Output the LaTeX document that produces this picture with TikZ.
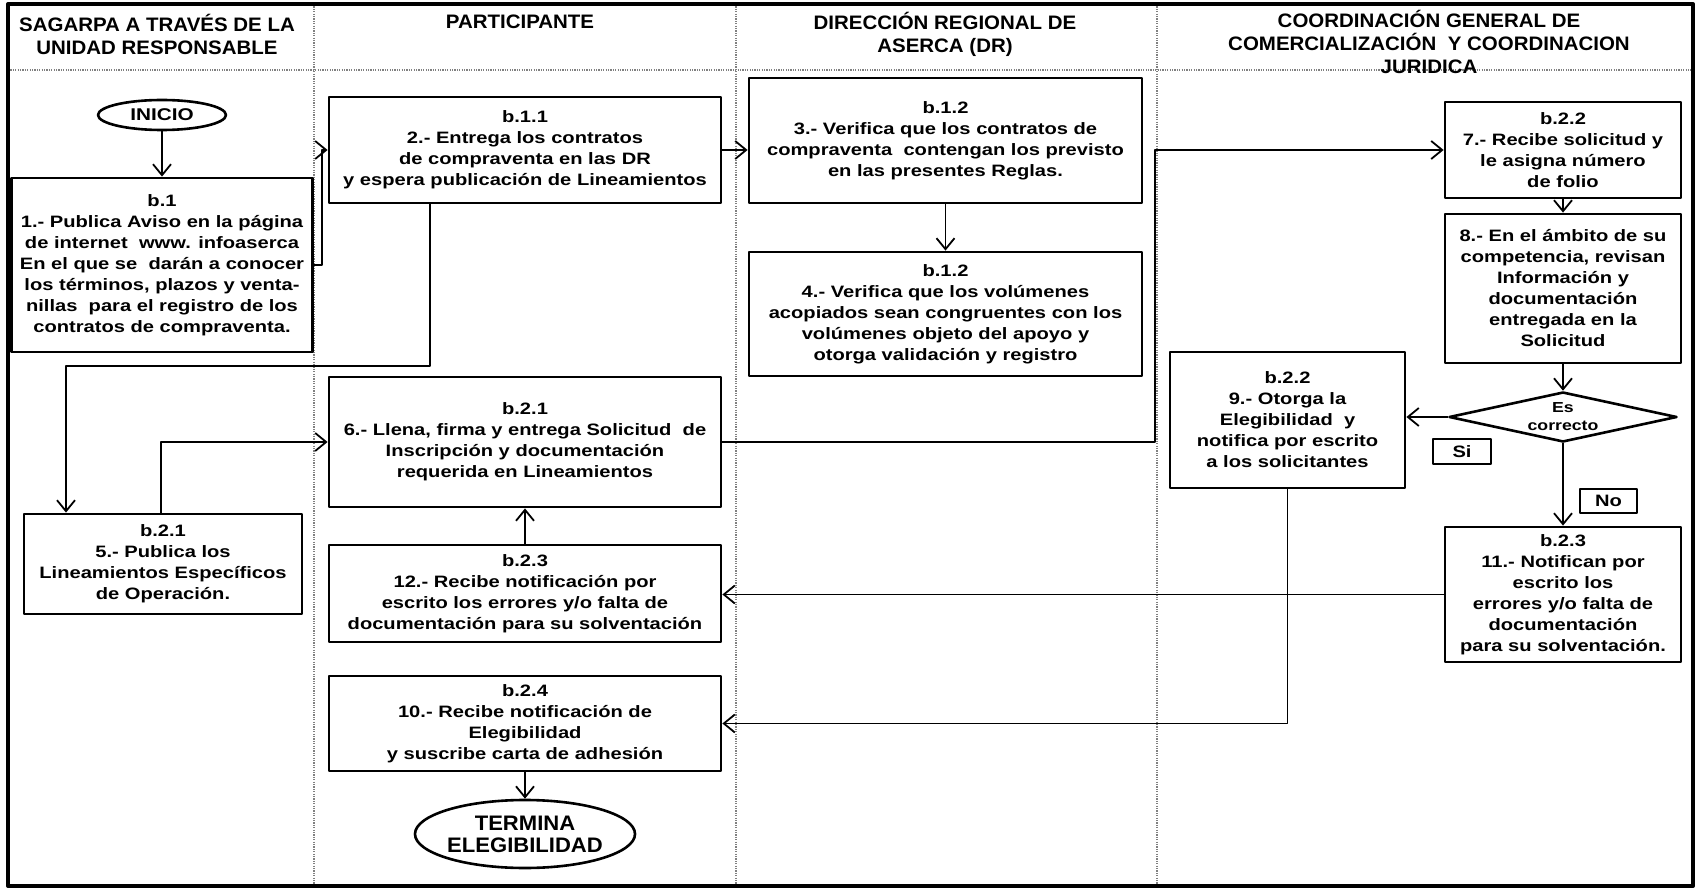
\documentclass[tikz,border=0pt]{standalone}
\usepackage[svgnames]{xcolor}
\usepackage{fontspec}
\setmainfont{Liberation Sans}
\newfontfamily\cajafont[FakeStretch=1.22]{Liberation Sans}
\newfontfamily\cabfont[FakeStretch=1.05]{Liberation Sans}
\usepackage{tikz}
\usetikzlibrary{arrows.meta}
\usetikzlibrary{shapes}
\usetikzlibrary{calc}

\begin{document}
\begin{tikzpicture}[line cap=round,line join=round,>={Straight Barb[length=11pt,width=18pt]},x=1pt,y=-1pt,
  caja/.style={draw,line width=2.8pt,inner sep=0pt,align=center,font=\cajafont\bfseries\fontsize{16.5}{21}\selectfont},
  inicio/.style={draw,ellipse,line width=2.6pt,inner sep=0pt,align=center},
  decision/.style={draw,diamond,line width=2.6pt,inner sep=0pt,minimum width=228pt,minimum height=50pt},
  cabecera/.style={align=center,font=\cabfont\bfseries\fontsize{19.5}{23}\selectfont},
  carril/.style={color=Gray,line width=1.2pt,dash pattern=on 1.2pt off 1.2pt,line cap=butt},
  flecha/.style={->,line width=1.8pt}]
\useasboundingbox (0,0) rectangle (1700,890);

% carriles
\draw[carril] (314,4) -- (314,886);
\draw[carril] (736,4) -- (736,886);
\draw[carril] (1157,4) -- (1157,886);
\draw[carril] (8,70) -- (1693,70);
\draw[line width=4pt] (8,4) rectangle (1693,886);

\draw (157,34) node[cabecera] (h1) {SAGARPA A TRAVÉS DE LA\\UNIDAD RESPONSABLE};
\draw (520,22) node[cabecera] (h2) {PARTICIPANTE};
\draw (945,34) node[cabecera] (h3) {DIRECCIÓN REGIONAL DE\\ASERCA (DR)};
\draw (1429,42) node[cabecera] (h4) {COORDINACIÓN GENERAL DE\\COMERCIALIZACIÓN\ \ Y COORDINACION\\JURIDICA};

\draw (162,115) node[inicio,minimum width=128pt,minimum height=30pt,font=\cajafont\bfseries\fontsize{17}{20}\selectfont] (inicio) {INICIO};
\draw (162,265) node[caja,minimum width=301pt,minimum height=174pt] (p1) {b.1\\1.- Publica Aviso en la página\\de internet\ \ www. infoaserca\\En el que se\ \ darán a conocer\\los términos, plazos y venta-\\nillas\ \ para el registro de los\\contratos de compraventa.};
\draw (525,150) node[caja,minimum width=392pt,minimum height=106pt] (p2) {b.1.1\\2.- Entrega los contratos\\de compraventa en las DR\\y espera publicación de Lineamientos};
\draw (945.5,140.5) node[caja,minimum width=393pt,minimum height=125pt] (p3) {b.1.2\\3.- Verifica que los contratos de\\compraventa\ \ contengan los previsto\\en las presentes Reglas.};
\draw (945.5,314) node[caja,minimum width=393pt,minimum height=124pt] (p4) {b.1.2\\4.- Verifica que los volúmenes\\acopiados sean congruentes con los\\volúmenes objeto del apoyo y\\otorga validación y registro};
\draw (163,564) node[caja,minimum width=278pt,minimum height=100pt] (p5) {b.2.1\\5.- Publica los\\Lineamientos Específicos\\de Operación.};
\draw (525,442) node[caja,minimum width=392pt,minimum height=130pt] (p6) {b.2.1\\6.- Llena, firma y entrega Solicitud\ \ de\\Inscripción y documentación\\requerida en Lineamientos};
\draw (1563,150) node[caja,minimum width=236pt,minimum height=96pt] (p7) {b.2.2\\7.- Recibe solicitud y\\le asigna número\\de folio};
\draw (1563,288.5) node[caja,minimum width=236pt,minimum height=149pt] (p8) {8.- En el ámbito de su\\competencia, revisan\\Información y\\documentación\\entregada en la\\Solicitud};
\draw (1563,417) node[decision] (correcto) {};
\draw (1563,417) node[align=center,font=\cajafont\bfseries\fontsize{14.5}{18}\selectfont] (escorrecto) {Es\\correcto};
\draw (1462,451.5) node[caja,line width=2.6pt,minimum width=58pt,minimum height=25pt] (si) {Si};
\draw (1608.5,501) node[caja,line width=2.6pt,minimum width=57pt,minimum height=24pt] (no) {No};
\draw (1287.5,420) node[caja,minimum width=235pt,minimum height=136pt] (p9) {b.2.2\\9.- Otorga la\\Elegibilidad\ \ y\\notifica por escrito\\a los solicitantes};
\draw (525,723.5) node[caja,minimum width=392pt,minimum height=95pt] (p10) {b.2.4\\10.- Recibe notificación de\\Elegibilidad\\y suscribe carta de adhesión};
\draw (1563,594.5) node[caja,minimum width=236pt,minimum height=135pt] (p11) {b.2.3\\11.- Notifican por\\escrito los\\errores y/o falta de\\documentación\\para su solventación.};
\draw (525,593.5) node[caja,minimum width=392pt,minimum height=97pt] (p12) {b.2.3\\12.- Recibe notificación por\\escrito los errores y/o falta de\\documentación para su solventación};
\draw (525,834) node[inicio,minimum width=206pt,minimum height=68pt,font=\cabfont\bfseries\fontsize{21}{22}\selectfont] (termina) {TERMINA\\ELEGIBILIDAD};

\draw[flecha] (inicio) -- (p1);
\draw[flecha] (p1.east) -- ++(8,0) |- (p2);
\draw[flecha] (p2.east) -- (p2.east -| p3.west);
\draw[flecha] (p3) -- (p4);
\draw[flecha] (p2.south -| 430,0) |- (66,366) -- (p5.north -| 66,0);
\draw[flecha] (p5.north -| 161,0) |- (p6);
\draw[flecha] (p6.east) -- (p6.east -| 1155,0) |- (p7);
\draw[flecha] (p7) -- (p8);
\draw[flecha] (p8) -- (correcto);
\draw[flecha] (correcto.west) -- (correcto.west -| p9.east);
\draw[flecha] (correcto) -- (p11);
\draw[flecha] (p11.west) -- (p11.west -| p12.east);
\draw[flecha] (p9.south) |- (p10);
\draw[flecha] (p12) -- (p6);
\draw[flecha] (p10) -- (termina);
\end{tikzpicture}
\end{document}
